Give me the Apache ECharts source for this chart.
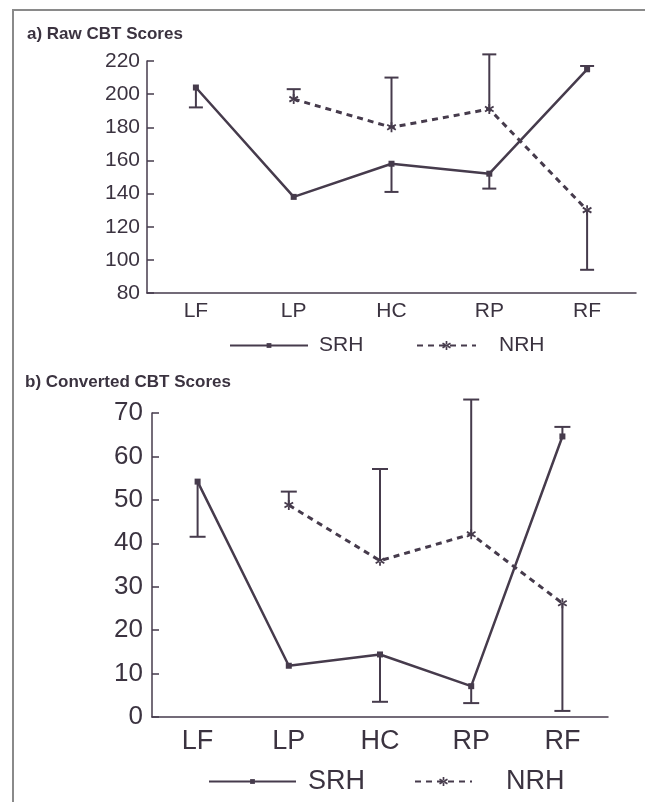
<!DOCTYPE html>
<html>
<head>
<meta charset="utf-8">
<title>CBT Scores</title>
<script src="https://cdn.jsdelivr.net/npm/echarts@6/dist/echarts.min.js"></script>
<style>
  html, body { margin: 0; padding: 0; background: #fff; }
  #chart { width: 645px; height: 802px; }
</style>
</head>
<body>
<div id="chart"></div>
<script>
// categories + values
const categories = ['LF', 'LP', 'HC', 'RP', 'RF'];

// a) raw scores
const rawSRH = [204, 138, 158, 152, 215];
const rawSRHBar = [192, null, 141, 143, 217];   // end of error bar
const rawNRH = [null, 197, 180, 191, 130];
const rawNRHBar = [null, 203, 210, 224, 94];
const rawTicks = { min: 80, max: 220, interval: 20 };

// b) converted scores
const convSRH = [54.2, 11.8, 14.4, 7.1, 64.6];
const convSRHBar = [41.5, null, 3.5, 3.2, 66.8];
const convNRH = [null, 48.8, 36.0, 42.1, 26.2];
const convNRHBar = [null, 51.9, 57.1, 73.1, 1.4];
const convTicks = { min: 0, max: 70, interval: 10 };

const LINE = '#463b4c';
const TEXT = '#3b3340';
const FONT = '"Liberation Sans", Arial, Helvetica, sans-serif';
// asterisk marker (three crossed bars)
const STAR = 'path://M-1.8,-10L1.8,-10L1.8,10L-1.8,10Z' +
  'M7.76,6.56L9.56,3.44L-7.76,-6.56L-9.56,-3.44Z' +
  'M-9.56,3.44L-7.76,6.56L9.56,-3.44L7.76,-6.56Z';

// turn value + bar end arrays into [index, value, end] rows
function errRows(vals, ends) {
  const rows = [];
  vals.forEach((v, i) => {
    if (v != null && ends[i] != null) rows.push([i, v, ends[i]]);
  });
  return rows;
}

function errRender(capW) {
  return function (params, api) {
    const i = api.value(0);
    const p1 = api.coord([i, api.value(1)]);
    const p2 = api.coord([i, api.value(2)]);
    const st = { stroke: LINE, lineWidth: 2 };
    return {
      type: 'group',
      children: [
        { type: 'line', shape: { x1: p1[0], y1: p1[1], x2: p2[0], y2: p2[1] }, style: st },
        { type: 'line', shape: { x1: p2[0] - capW / 2, y1: p2[1], x2: p2[0] + capW / 2, y2: p2[1] }, style: st }
      ]
    };
  };
}

function xAxis(gi, fs, margin) {
  return {
    type: 'category', gridIndex: gi, data: categories,
    axisLine: { lineStyle: { color: LINE, width: 1.5 } },
    axisTick: { inside: true, length: 7, lineStyle: { color: LINE, width: 1.5 } },
    axisLabel: { fontSize: fs, color: TEXT, margin: margin, fontFamily: FONT }
  };
}

function yAxis(gi, ticks, fs, margin) {
  return {
    type: 'value', gridIndex: gi,
    min: ticks.min, max: ticks.max, interval: ticks.interval,
    splitLine: { show: false },
    axisLine: { show: true, lineStyle: { color: LINE, width: 1.5 } },
    axisTick: { show: true, inside: true, length: 7, lineStyle: { color: LINE, width: 1.5 } },
    axisLabel: { fontSize: fs, color: TEXT, margin: margin, fontFamily: FONT }
  };
}

function lineSeries(name, gi, data, dashed, symSize) {
  return {
    name: name, type: 'line', xAxisIndex: gi, yAxisIndex: gi, data: data,
    symbol: dashed ? STAR : 'rect',
    symbolSize: symSize,
    symbolKeepAspect: true,
    z: 3,
    lineStyle: dashed ? { color: LINE, width: 3, type: [6, 5] } : { color: LINE, width: 2.5 },
    itemStyle: { color: LINE },
    emphasis: { disabled: true }
  };
}

function errSeries(gi, vals, ends, capW) {
  return {
    type: 'custom', xAxisIndex: gi, yAxisIndex: gi,
    renderItem: errRender(capW),
    data: errRows(vals, ends),
    z: 2, silent: true
  };
}

function legendItem(name, left, top, w, h, fs, gap) {
  return {
    data: [name], left: left, top: top, padding: 0,
    itemWidth: w, itemHeight: h, selectedMode: false,
    textStyle: { fontSize: fs, color: TEXT, fontFamily: FONT, padding: [0, 0, 0, gap] }
  };
}

const chart = echarts.init(document.getElementById('chart'));
chart.setOption({
  backgroundColor: '#fff',
  animation: false,
  title: [
    { text: 'a) Raw CBT Scores', left: 27, top: 26, padding: 0,
      textStyle: { fontSize: 17, fontWeight: 'bold', color: TEXT, fontFamily: FONT } },
    { text: 'b) Converted CBT Scores', left: 25, top: 374, padding: 0,
      textStyle: { fontSize: 17, fontWeight: 'bold', color: TEXT, fontFamily: FONT } }
  ],
  grid: [
    { left: 147, right: 9, top: 61, bottom: 509 },
    { left: 152, right: 37, top: 413, bottom: 85 }
  ],
  legend: [
    legendItem('SRH', 229, 335, 78, 6, 21, 6),
    legendItem('NRH', 416, 335, 59, 11, 21, 18),
    legendItem('SRH', 208, 768, 87, 6, 27, 7),
    legendItem('NRH', 414, 768, 57, 11, 27, 29)
  ],
  xAxis: [xAxis(0, 21, 8), xAxis(1, 27, 11)],
  yAxis: [yAxis(0, rawTicks, 21, 7), yAxis(1, convTicks, 26, 9)],
  graphic: [
    { type: 'polyline', silent: true,
      shape: { points: [[13, 802], [13, 10], [645, 10]] },
      style: { stroke: '#8a8a8a', lineWidth: 2, fill: null } }
  ],
  series: [
    errSeries(0, rawSRH, rawSRHBar, 14),
    errSeries(0, rawNRH, rawNRHBar, 14),
    lineSeries('SRH', 0, rawSRH, false, 6),
    lineSeries('NRH', 0, rawNRH, true, 10),
    errSeries(1, convSRH, convSRHBar, 16),
    errSeries(1, convNRH, convNRHBar, 16),
    lineSeries('SRH', 1, convSRH, false, 6),
    lineSeries('NRH', 1, convNRH, true, 10)
  ]
});
window.addEventListener('resize', () => chart.resize());
</script>
</body>
</html>
